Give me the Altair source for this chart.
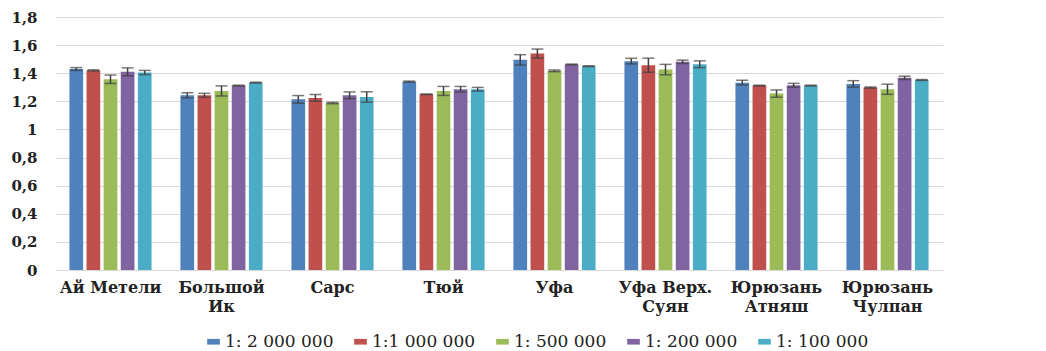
import altair as alt
import pandas as pd

categories = ["Ай Метели", "Большой\nИк", "Сарс", "Тюй", "Уфа",
              "Уфа Верх.\nСуян", "Юрюзань\nАтняш", "Юрюзань\nЧулпан"]
series = ["1: 2 000 000", "1:1 000 000", "1: 500 000", "1: 200 000", "1: 100 000"]
colors = ["#4F81BD", "#C0504D", "#9BBB59", "#8064A2", "#4BACC6"]

s1 = [1.43, 1.243, 1.214, 1.34, 1.495, 1.486, 1.333, 1.324]
e1 = [0.01, 0.018, 0.027, 0.004, 0.037, 0.02, 0.017, 0.023]
s2 = [1.42, 1.243, 1.224, 1.25, 1.54, 1.457, 1.312, 1.298]
e2 = [0.004, 0.014, 0.024, 0.002, 0.032, 0.05, 0.003, 0.004]
s3 = [1.357, 1.274, 1.188, 1.274, 1.417, 1.426, 1.255, 1.286]
e3 = [0.03, 0.036, 0.005, 0.032, 0.006, 0.037, 0.026, 0.036]
s4 = [1.41, 1.312, 1.243, 1.286, 1.462, 1.481, 1.314, 1.367]
e4 = [0.028, 0.003, 0.024, 0.02, 0.003, 0.012, 0.014, 0.012]
s5 = [1.405, 1.333, 1.231, 1.286, 1.45, 1.464, 1.312, 1.352]
e5 = [0.015, 0.003, 0.037, 0.013, 0.003, 0.024, 0.003, 0.003]

y_ticks = [0, 0.2, 0.4, 0.6, 0.8, 1, 1.2, 1.4, 1.6, 1.8]

values = [s1, s2, s3, s4, s5]
errors = [e1, e2, e3, e4, e5]

rows = []
for s, vals, errs in zip(series, values, errors):
    for c, v, e in zip(categories, vals, errs):
        rows.append({"cat": c, "series": s, "v": v, "lo": v - e, "hi": v + e})
df = pd.DataFrame(rows)

FONT = "DejaVu Serif"
TXT = "#222222"

x = alt.X("cat:N", sort=categories,
          scale=alt.Scale(domain=categories, range=[0, 888],
                          paddingInner=0.26, paddingOuter=0.13),
          axis=alt.Axis(title=None, labelExpr="split(datum.label, '\\n')",
                        labelAngle=0, domain=False, ticks=False, grid=False,
                        labelPadding=9, labelFont=FONT, labelFontWeight="bold",
                        labelFontSize=16, labelColor=TXT, labelLineHeight=19))
xo = alt.XOffset("series:N", sort=series,
                 scale=alt.Scale(domain=series, paddingInner=0.2, paddingOuter=0))

y_axis = alt.Axis(title=None, values=y_ticks,
                  labelExpr="replace(format(datum.value, '.2~f'), '.', ',')",
                  domain=False, ticks=False, labelPadding=18,
                  labelFont=FONT, labelFontWeight="bold", labelFontSize=15,
                  labelColor=TXT, gridColor="#D9D9D9", gridWidth=1.2)
y_scale = alt.Scale(domain=[0, 1.8], nice=False)

bars = alt.Chart(df).mark_bar().encode(
    x=x, xOffset=xo,
    y=alt.Y("v:Q", scale=y_scale, axis=y_axis),
    color=alt.Color("series:N", sort=series,
                    scale=alt.Scale(domain=series, range=colors),
                    legend=alt.Legend(title=None, orient="none", legendX=150, legendY=316,
                                      direction="horizontal",
                                      symbolType="M-1,-0.45H1V0.45H-1Z", symbolSize=160,
                                      symbolStrokeWidth=0,
                                      labelFont=FONT, labelFontSize=17, labelColor=TXT,
                                      columnPadding=18, labelOffset=3, padding=0)),
)

rules = alt.Chart(df).mark_rule(color="#404040", strokeWidth=1.5).encode(
    x=x, xOffset=xo,
    y=alt.Y("lo:Q", scale=y_scale, axis=y_axis), y2="hi:Q")
cap_hi = alt.Chart(df).mark_tick(color="#404040", thickness=1.5, size=12,
                                 orient="horizontal").encode(
    x=x, xOffset=xo, y=alt.Y("hi:Q", scale=y_scale, axis=y_axis))
cap_lo = alt.Chart(df).mark_tick(color="#404040", thickness=1.5, size=12,
                                 orient="horizontal").encode(
    x=x, xOffset=xo, y=alt.Y("lo:Q", scale=y_scale, axis=y_axis))

chart = alt.layer(bars, rules, cap_hi, cap_lo).properties(
    width=983, height=253,
    autosize=alt.AutoSizeParams(type="none"),
    padding={"left": 47, "top": 9, "right": 0, "bottom": 80},
).configure_view(stroke=None)

chart.save("out.html", embed_options={"renderer": "svg", "actions": False})
